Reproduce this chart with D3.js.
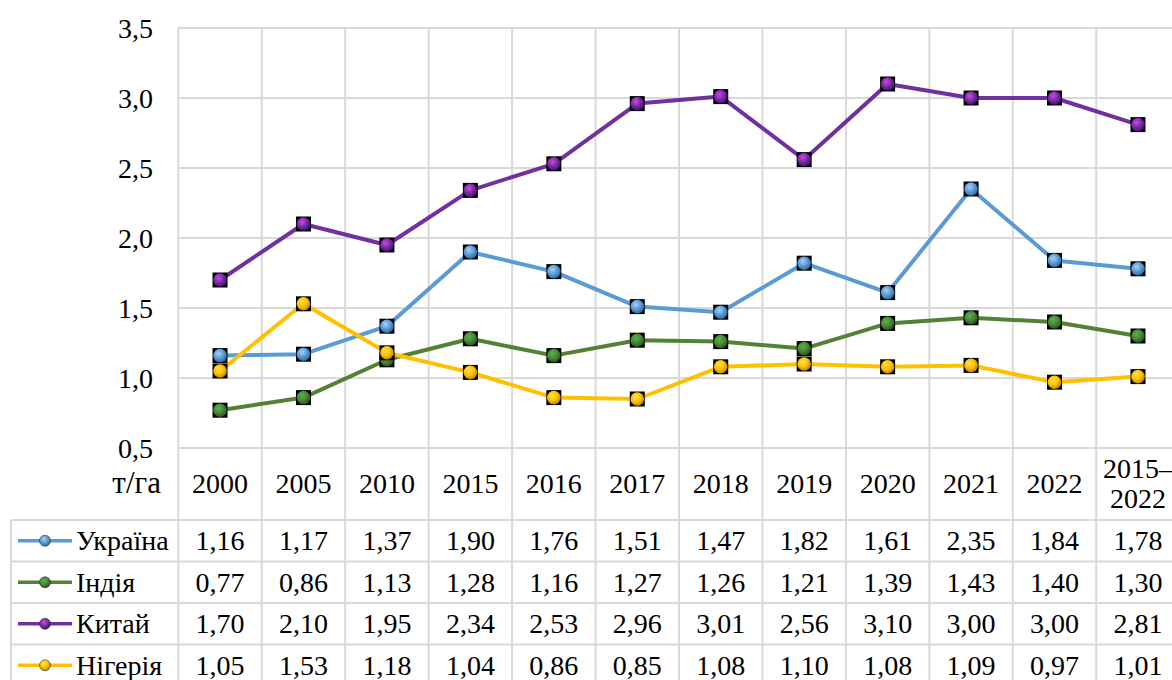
<!DOCTYPE html>
<html><head><meta charset="utf-8">
<script src="https://cdn.jsdelivr.net/npm/d3@7"></script>
<style>body{margin:0;background:#fff;overflow:hidden}svg{display:block}
svg text{font-family:"Liberation Serif","Times New Roman",Times,"DejaVu Serif",serif;fill:#000}</style>
</head><body>
<svg id="c" width="1172" height="680"></svg>
<script>
const categories = ["2000","2005","2010","2015","2016","2017","2018","2019","2020","2021","2022","2015–2022"];
const ukraine = [1.16,1.17,1.37,1.90,1.76,1.51,1.47,1.82,1.61,2.35,1.84,1.78];
const india   = [0.77,0.86,1.13,1.28,1.16,1.27,1.26,1.21,1.39,1.43,1.40,1.30];
const china   = [1.70,2.10,1.95,2.34,2.53,2.96,3.01,2.56,3.10,3.00,3.00,2.81];
const nigeria = [1.05,1.53,1.18,1.04,0.86,0.85,1.08,1.10,1.08,1.09,0.97,1.01];
const seriesNames = ["Україна","Індія","Китай","Нігерія"];
const yTicks = [0.5,1.0,1.5,2.0,2.5,3.0,3.5];
const unitLabel = "т/га";

(function(){
const series = [
  {name:seriesNames[0], values:ukraine, color:"#5B9BD5", light:"#a9d0f5", dark:"#2e6da4"},
  {name:seriesNames[1], values:india,   color:"#548235", light:"#3fbf4f", dark:"#1f5a1f"},
  {name:seriesNames[2], values:china,   color:"#7030A0", light:"#e040e8", dark:"#4a0f78"},
  {name:seriesNames[3], values:nigeria, color:"#FFC000", light:"#ffe34d", dark:"#c08a00"}
];

const svg = d3.select("#c");
const pLeft = 178.3, pRight = 1179.7, pTop = 28, pBottom = 448;
const tableLeft = 11, headerBottom = 520, rowH = 41.5;
const grid = "#d9d9d9";
const fs = 28;

const x = d3.scaleBand().domain(categories).range([pLeft,pRight]).padding(0);
const bw = x.bandwidth();
const cx = c => x(c) + bw/2;
const y = d3.scaleLinear().domain([0.5,3.5]).range([pBottom,pTop]);

const defs = svg.append("defs");
series.forEach((s,i)=>{
  const g = defs.append("radialGradient").attr("id","g"+i)
    .attr("cx","40%").attr("cy","35%").attr("r","65%");
  g.append("stop").attr("offset","0%").attr("stop-color",s.light);
  g.append("stop").attr("offset","55%").attr("stop-color",s.color);
  g.append("stop").attr("offset","100%").attr("stop-color",s.dark);
});

svg.append("g").selectAll("line").data(yTicks).join("line")
  .attr("x1",pLeft).attr("x2",pRight).attr("y1",d=>y(d)).attr("y2",d=>y(d))
  .attr("stroke",grid).attr("stroke-width",2);
const vlines = categories.map(c=>x(c)).concat([pRight]);
const nRows = series.length;
const tableBottom = headerBottom + rowH*nRows;
svg.append("g").selectAll("line").data(vlines).join("line")
  .attr("x1",d=>d).attr("x2",d=>d).attr("y1",pTop).attr("y2",tableBottom)
  .attr("stroke",grid).attr("stroke-width",2);
const hl = d3.range(nRows+1).map(i=>headerBottom+i*rowH);
svg.append("g").selectAll("line").data(hl).join("line")
  .attr("x1",tableLeft).attr("x2",pRight).attr("y1",d=>d).attr("y2",d=>d)
  .attr("stroke",grid).attr("stroke-width",2);
svg.append("line").attr("x1",tableLeft).attr("x2",tableLeft)
  .attr("y1",headerBottom).attr("y2",tableBottom).attr("stroke",grid).attr("stroke-width",2);

const fmt = d => d3.format(".1f")(d).replace(".",",");
svg.append("g").selectAll("text").data(yTicks).join("text")
  .attr("x",153).attr("y",d=>y(d)).attr("dy","0.34em").attr("text-anchor","end")
  .attr("font-size",fs).text(fmt);

svg.append("text").attr("x",161).attr("y",493).attr("text-anchor","end")
  .attr("font-size",31).text(unitLabel);

categories.forEach(c=>{
  const parts = c.includes("–") ? [c.split("–")[0]+"–", c.split("–")[1]] : [c];
  const t = svg.append("text").attr("x",cx(c)).attr("text-anchor","middle")
    .attr("font-size",fs);
  if(parts.length===1){ t.attr("y",493).text(c); }
  else {
    t.append("tspan").attr("x",cx(c)).attr("y",478).text(parts[0]);
    t.append("tspan").attr("x",cx(c)).attr("y",508).text(parts[1]);
  }
});

const line = d3.line().x((d,i)=>cx(categories[i])).y(d=>y(d));
series.forEach((s,i)=>{
  svg.append("path").attr("d",line(s.values)).attr("fill","none")
    .attr("stroke",s.color).attr("stroke-width",4).attr("stroke-linejoin","round");
});
series.forEach((s,i)=>{
  const g = svg.append("g");
  g.selectAll("rect").data(s.values).join("rect")
    .attr("x",(d,j)=>cx(categories[j])-7.5).attr("y",d=>y(d)-7.5)
    .attr("width",15).attr("height",15).attr("fill","#000");
  g.selectAll("circle").data(s.values).join("circle")
    .attr("cx",(d,j)=>cx(categories[j])).attr("cy",d=>y(d)).attr("r",6.8)
    .attr("fill",`url(#g${i})`);
});

const vfmt = d => d3.format(".2f")(d).replace(".",",");
series.forEach((s,i)=>{
  const rc = headerBottom + rowH*i + rowH/2;
  svg.append("line").attr("x1",18).attr("x2",72).attr("y1",rc).attr("y2",rc)
    .attr("stroke",s.color).attr("stroke-width",3.5);
  svg.append("circle").attr("cx",45).attr("cy",rc).attr("r",5.5).attr("fill",`url(#g${i})`)
    .attr("stroke","#333").attr("stroke-width",0.6);
  svg.append("text").attr("x",76).attr("y",rc).attr("dy","0.34em")
    .attr("font-size",fs).text(s.name);
  svg.append("g").selectAll("text").data(s.values).join("text")
    .attr("x",(d,j)=>cx(categories[j])).attr("y",rc).attr("dy","0.34em")
    .attr("text-anchor","middle").attr("font-size",fs)
    .text(vfmt);
});
})();
</script>
</body></html>
